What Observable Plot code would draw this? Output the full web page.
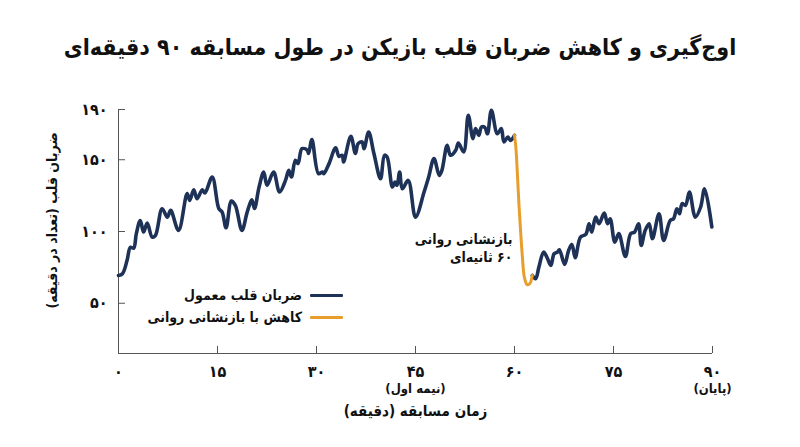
<!DOCTYPE html>
<html>
<head>
<meta charset="utf-8">
<script src="https://cdn.jsdelivr.net/npm/d3@7"></script>
<script src="https://cdn.jsdelivr.net/npm/@observablehq/plot@0.6"></script>
<style>
  html, body { margin: 0; padding: 0; background: #fff; }
  body { width: 800px; height: 447px; position: relative; overflow: hidden;
         font-family: "DejaVu Sans Condensed", "DejaVu Sans", sans-serif; color: #111; }
  #title { position: absolute; top: 29px; left: 0; width: 800px; text-align: center;
           font-size: 23px; font-weight: bold; line-height: 36px; }
  #chart { position: absolute; top: 80px; left: 0; }
  #legend { position: absolute; top: 284px; right: 457px; font-size: 14px; font-weight: bold; }
  #legend .row { display: flex; justify-content: flex-end; align-items: center; gap: 8px; height: 22px; }
  #legend .sw { display: inline-block; width: 33px; height: 3px; border-radius: 1px; }
</style>
</head>
<body>
<div id="title"></div>
<div id="chart"></div>
<div id="legend"></div>
<script>
// ---- data ----
const titleText = "اوج‌گیری و کاهش ضربان قلب بازیکن در طول مسابقه ۹۰ دقیقه‌ای";
const yLabelText = "ضربان قلب (تعداد در دقیقه)";
const xLabelText = "زمان مسابقه (دقیقه)";
const seriesNames = ["ضربان قلب معمول", "کاهش با بازنشانی روانی"];
const seriesColors = ["#1e3157", "#e89e2c"];

const xTicks = [0, 15, 30, 45, 60, 75, 90];
const xTickLabels = ["۰", "۱۵", "۳۰", "۴۵", "۶۰", "۷۵", "۹۰"];
const xSubMinutes = [45, 90];
const xSubLabels = ["(نیمه اول)", "(پایان)"];
const yTicks = [50, 100, 150, 185];
const yTickLabels = ["۵۰", "۱۰۰", "۱۵۰", "۱۹۰"];

const annotationMinute = [60];
const annotationBpm = [89];
const annotationLines = [["بازنشانی روانی", "۶۰ ثانیه‌ای"]];

const beforeMinutes = [0,0.6,1.3,1.8,2.3,2.7,3.3,3.8,4.35,5.1,5.6,6.6,7.4,7.9,9.1,10.4,10.8,11.4,11.9,12.7,13.1,14.2,15.2,15.7,16.3,17.1,17.7,18.7,19.5,20.2,20.6,21.3,22,22.5,23.5,24.4,25.3,25.8,26.2,26.8,27.2,27.8,28.6,28.8,29.3,30.3,30.9,31.1,31.9,32.9,33.4,33.9,34.1,35.2,35.9,36.3,36.9,37.2,37.9,38.7,39.7,40.3,40.7,41.5,41.9,42.2,42.6,43,43.9,45,46.3,47,47.8,48.6,49,49.8,50.3,51.1,51.5,52.3,53,53.7,54.1,54.6,55,55.5,55.9,56.5,57.4,58,58.4,59,59.4,60];
const beforeBpm = [69.4,70.6,79.9,89,88.4,98.5,107.7,99.6,105.9,96.1,97.3,115.9,110,114.7,100.8,126.4,121.7,129.1,122.9,129.1,126.8,138,115.9,113.5,102.6,121.2,118.2,100.8,113.5,122,116,131,141.4,132.2,141.4,127.5,135.6,142.6,138,149.6,147.3,157.7,156.6,154.3,164,140.3,141.4,140.3,147.3,158.4,152.4,153.1,148.4,166.3,154.3,161.2,162.4,157.7,169.3,154.3,136.8,153.1,151.9,131,134.5,132.2,141.4,129.8,135.6,110,127.5,138,150.8,139.1,142.6,160,153.1,156.6,161.7,155.4,181,164.7,171.7,167,172.8,172.5,168.1,184.5,168.1,171.7,162.4,165.8,163.5,167];

const resetMinutes = [60,60.2,60.7,61.2,61.5,61.9,62.3,62.7];
const resetBpm = [167,159,117,82,68,63,63.6,69.4];

const afterMinutes = [62.7,63.2,63.7,64.4,64.9,65.5,66,66.5,66.8,67.6,68.2,68.7,69.2,70,70.8,71.3,71.7,72.3,72.8,73.6,74.1,74.5,75.2,75.8,76.8,77.6,78.2,78.8,79.2,79.8,80.4,80.9,81.9,82.6,83.6,84.1,84.6,85,85.4,85.9,86.5,87.4,88.2,88.8,89.9];
const afterBpm = [69.4,67.1,75.2,85.6,82.2,76.4,84.5,85.6,87.3,77.1,86.8,91,81.7,96.1,98,105.4,99.6,110,105.4,112.8,105.4,108.9,92.6,98.5,82.6,98.5,99.6,105.4,90.3,100.8,105.4,95,112.4,93.8,107.7,108.9,115.9,112.4,119.4,118.2,127.5,110,117,129.8,103.1];

// right-to-left text: wrap with RLM marks so the runs resolve right-to-left
const rtl = s => "\u200F" + s + "\u200F";

const toRows = (ms, vs) => ms.map((m, i) => ({minute: m, bpm: vs[i]}));
const before = toRows(beforeMinutes, beforeBpm);
const reset = toRows(resetMinutes, resetBpm);
const after = toRows(afterMinutes, afterBpm);
const annotations = annotationMinute.map((m, i) => ({minute: m, bpm: annotationBpm[i],
  text: annotationLines[i].map(rtl).join("\n")}));
const subs = xSubMinutes.map((m, i) => ({minute: m, text: rtl(xSubLabels[i])}));

document.getElementById("title").textContent = rtl(titleText);

const font = "DejaVu Sans Condensed, DejaVu Sans, sans-serif";
const chart = Plot.plot({
  width: 800,
  height: 367,
  marginLeft: 118,
  marginRight: 88,
  marginTop: 29,
  marginBottom: 94,
  style: {fontFamily: font, color: "#111", background: "transparent"},
  x: {domain: [0, 90]},
  y: {domain: [15, 185]},
  marks: [
    Plot.ruleY([15], {stroke: "#555", strokeWidth: 1}),
    Plot.ruleX([0], {y1: 15, y2: 185, stroke: "#555", strokeWidth: 1}),
    Plot.axisX({ticks: xTicks, tickFormat: d => xTickLabels[xTicks.indexOf(d)], tickSize: -7, tickPadding: 19,
      stroke: "#555", fontSize: 16, fontWeight: "bold", fill: "#111", label: null}),
    Plot.axisY({ticks: yTicks, tickFormat: d => yTickLabels[yTicks.indexOf(d)], tickSize: -7, tickPadding: 18,
      stroke: "#555", fontSize: 16, fontWeight: "bold", fill: "#111", label: null}),
    Plot.text(subs, {x: "minute", text: "text", frameAnchor: "bottom", dy: 39, fontSize: 13, fontWeight: "bold", fill: "#111"}),
    Plot.text([rtl(xLabelText)], {frameAnchor: "bottom", dy: 62, fontSize: 15, fontWeight: "bold", fill: "#111"}),
    Plot.text([rtl(yLabelText)], {frameAnchor: "left", textAnchor: "middle", lineAnchor: "middle", rotate: -90, dx: -66, dy: -11, fontSize: 14, fontWeight: "bold", fill: "#111"}),
    Plot.line(before, {x: "minute", y: "bpm", stroke: seriesColors[0], strokeWidth: 3.6, curve: "catmull-rom"}),
    Plot.line(after, {x: "minute", y: "bpm", stroke: seriesColors[0], strokeWidth: 3.6, curve: "catmull-rom"}),
    Plot.line(reset, {x: "minute", y: "bpm", stroke: seriesColors[1], strokeWidth: 3, curve: "catmull-rom"}),
    Plot.text(annotations, {x: "minute", y: "bpm", text: "text", textAnchor: "end", dx: -2, fontSize: 14, fontWeight: "bold", fill: "#111", lineHeight: 1.3})
  ]
});
document.getElementById("chart").appendChild(chart);

const legend = document.getElementById("legend");
seriesNames.forEach((name, i) => {
  const row = document.createElement("div");
  row.className = "row";
  const t = document.createElement("span");
  t.textContent = rtl(name);
  const sw = document.createElement("span");
  sw.className = "sw";
  sw.style.background = seriesColors[i];
  row.appendChild(t);
  row.appendChild(sw);
  legend.appendChild(row);
});
</script>
</body>
</html>
